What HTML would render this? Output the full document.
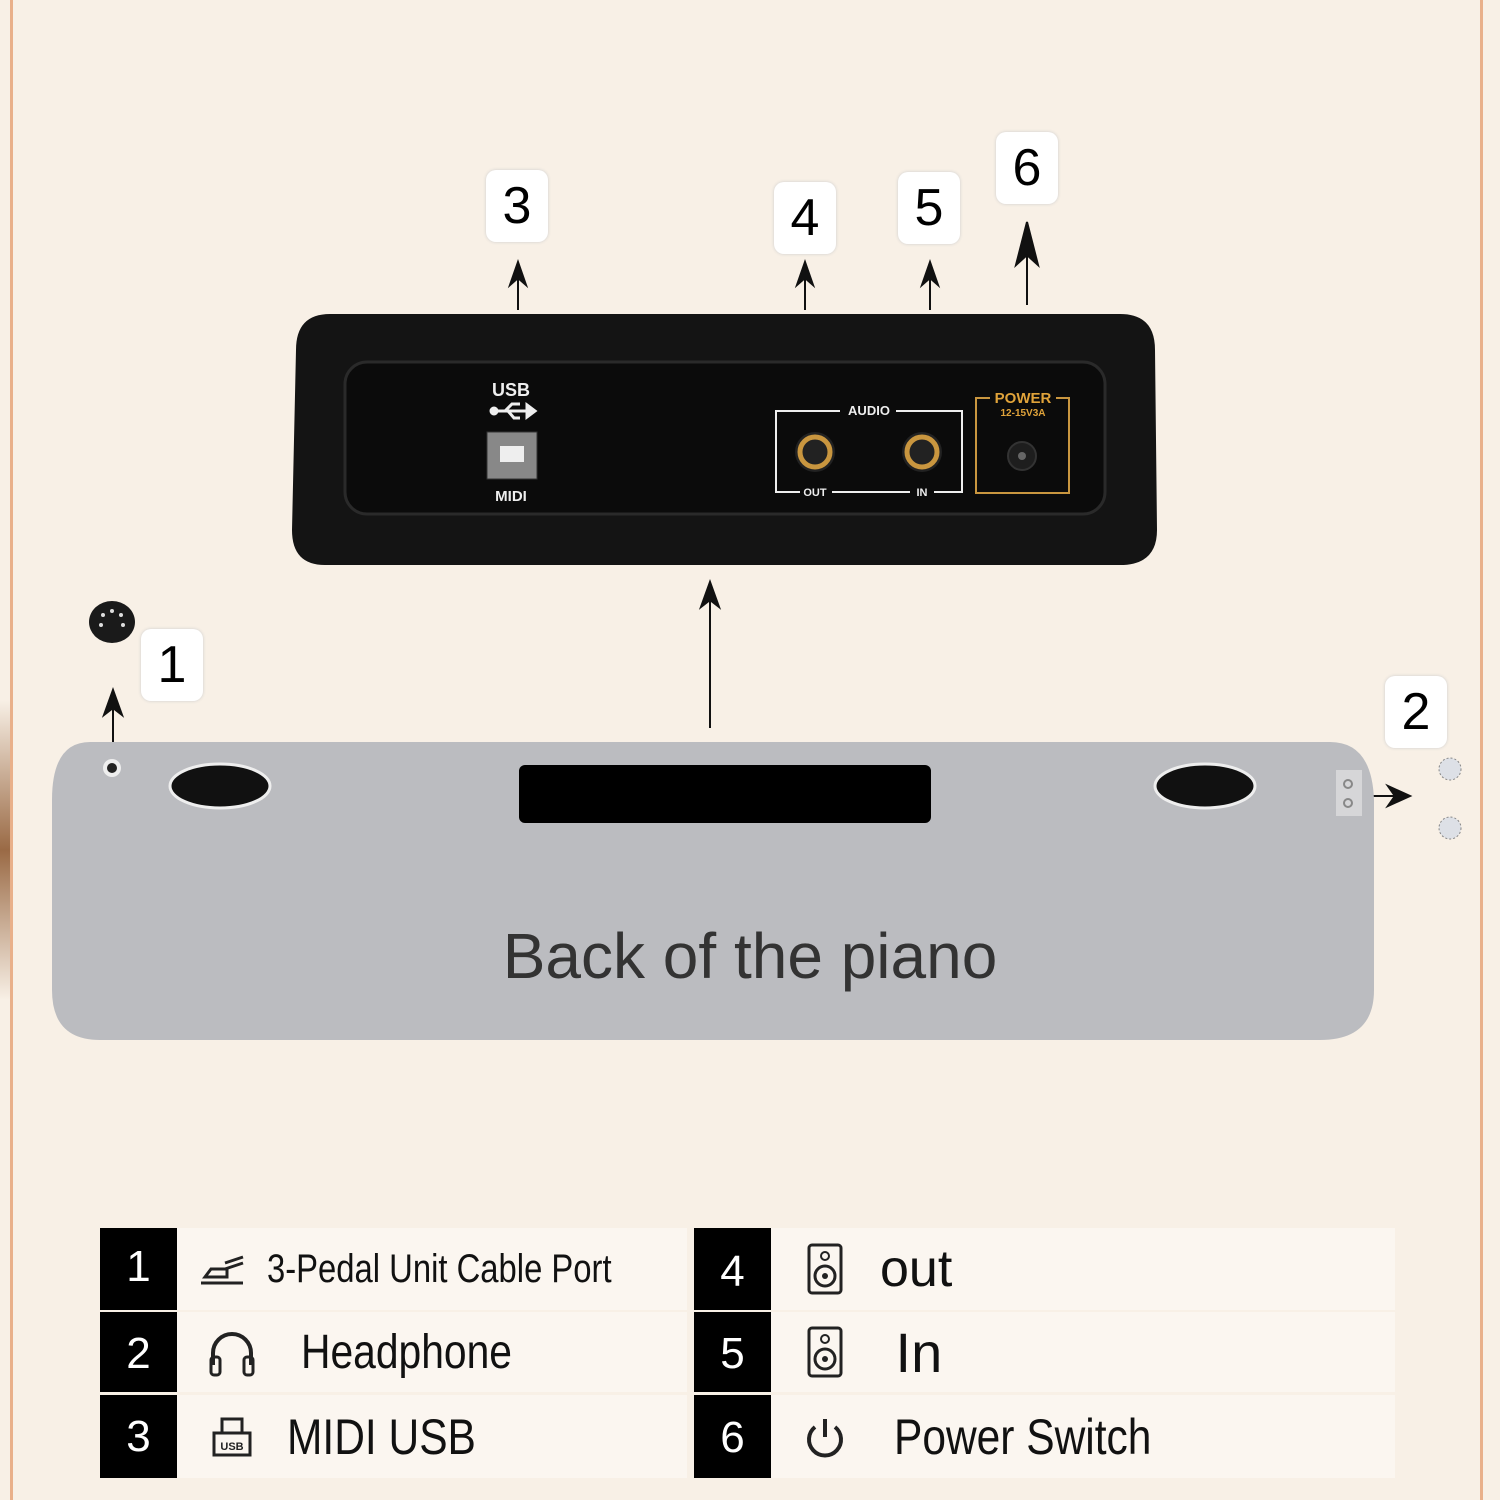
<!DOCTYPE html>
<html><head><style>
body{margin:0;width:1500px;height:1500px;background:#f8f0e6;position:relative;overflow:hidden;font-family:"Liberation Sans",sans-serif}
.a{position:absolute}
.num{position:absolute;width:62px;height:72px;background:#fff;border-radius:10px;box-shadow:0 0 3px #ccc;font-size:52px;text-align:center;line-height:72px;color:#000}
.blk{position:absolute;background:#000;color:#fff;font-size:44px;text-align:center;width:77px}
.row{position:absolute;background:#fbf6f0;font-size:42px;color:#111;display:flex;align-items:center;white-space:nowrap}
.ico{width:110px;display:flex;justify-content:center;align-items:center}
.t{display:inline-block;transform-origin:left center}
</style></head><body>
<div class="a" style="left:10px;top:0;width:3px;height:1500px;background:#e9b08a"></div>
<div class="a" style="left:1480px;top:0;width:3px;height:1500px;background:#e9b08a"></div>
<div class="a" style="left:0;top:700px;width:10px;height:300px;background:linear-gradient(#f8f0e6,#9a6a45,#f8f0e6)"></div>

<div class="num" style="left:486px;top:170px">3</div>
<div class="num" style="left:774px;top:182px">4</div>
<div class="num" style="left:898px;top:172px">5</div>
<div class="num" style="left:996px;top:132px">6</div>
<div class="num" style="left:141px;top:629px">1</div>
<div class="num" style="left:1385px;top:676px">2</div>

<svg class="a" style="left:0;top:0" width="1500" height="1500">
<g stroke="#111" stroke-width="2" fill="#111">
<line x1="518" y1="310" x2="518" y2="270"/><path d="M510 285 L518 262 L526 285 L518 278Z"/>
<line x1="805" y1="310" x2="805" y2="270"/><path d="M797 285 L805 262 L813 285 L805 278Z"/>
<line x1="930" y1="310" x2="930" y2="270"/><path d="M922 285 L930 262 L938 285 L930 278Z"/>
<line x1="1027" y1="305" x2="1027" y2="235"/><path d="M1016 265 L1027 222 L1038 265 L1027 255Z"/>
<line x1="710" y1="728" x2="710" y2="590"/><path d="M701 607 L710 582 L719 607 L710 600Z"/>
<line x1="113" y1="745" x2="113" y2="700"/><path d="M104 715 L113 690 L122 715 L113 708Z"/>
<line x1="1368" y1="796" x2="1400" y2="796"/><path d="M1388 786 L1410 796 L1388 806 L1395 796Z"/>
</g>
<ellipse cx="112" cy="622" rx="23" ry="21" fill="#1a1a1a"/>
<g fill="#ddd"><circle cx="103" cy="615" r="2"/><circle cx="112" cy="611" r="2"/><circle cx="121" cy="615" r="2"/><circle cx="101" cy="625" r="2"/><circle cx="123" cy="625" r="2"/></g>
<circle cx="1450" cy="769" r="11" fill="#dde0e6" stroke="#888" stroke-dasharray="2 2"/>
<circle cx="1450" cy="828" r="11" fill="#dde0e6" stroke="#888" stroke-dasharray="2 2"/>
<path d="M90 742 L1330 742 Q1372 742 1374 800 L1374 990 Q1374 1040 1320 1040 L100 1040 Q52 1040 52 990 L52 800 Q52 742 90 742Z" fill="#bbbcc0"/>
<circle cx="112" cy="768" r="9" fill="#eee"/><circle cx="112" cy="768" r="5" fill="#222"/>
<ellipse cx="220" cy="786" rx="50" ry="22" fill="#111" stroke="#eee" stroke-width="3"/>
<ellipse cx="1205" cy="786" rx="50" ry="22" fill="#111" stroke="#eee" stroke-width="3"/>
<rect x="519" y="765" width="412" height="58" rx="6" fill="#000"/>
<rect x="1336" y="770" width="26" height="46" fill="#d6d6d8"/>
<circle cx="1348" cy="784" r="4" fill="none" stroke="#888" stroke-width="2"/><circle cx="1348" cy="803" r="4" fill="none" stroke="#888" stroke-width="2"/>
<text x="750" y="978" font-size="64" text-anchor="middle" fill="#333" font-family="Liberation Sans">Back of the piano</text>

<path d="M330 314 L1120 314 Q1155 314 1155 350 L1157 530 Q1157 565 1120 565 L325 565 Q292 565 292 530 L296 350 Q296 314 330 314Z" fill="#141414"/>
<rect x="345" y="362" width="760" height="152" rx="22" fill="#0b0b0b" stroke="#2a2a2a" stroke-width="3"/>
<g font-family="Liberation Sans" font-weight="bold" fill="#eee" text-anchor="middle">
<text x="511" y="396" font-size="18">USB</text>
<text x="511" y="501" font-size="15">MIDI</text>
<text x="869" y="415" font-size="13">AUDIO</text>
<text x="815" y="496" font-size="11">OUT</text>
<text x="922" y="496" font-size="11">IN</text>
</g>
<g stroke="#eee" stroke-width="3" fill="#eee"><line x1="495" y1="411" x2="528" y2="411"/><circle cx="494" cy="411" r="3"/><path d="M527 405 L535 411 L527 417Z"/><path d="M505 411 L512 404 L520 404" fill="none"/><path d="M508 411 L514 418 L520 418" fill="none"/></g>
<rect x="487" y="432" width="50" height="47" fill="#888" stroke="#333"/>
<rect x="500" y="446" width="24" height="16" fill="#eee"/>
<path d="M840 411 L776 411 L776 492 L800 492 M832 492 L910 492 M934 492 L962 492 L962 411 L896 411" fill="none" stroke="#eee" stroke-width="2"/>
<circle cx="815" cy="452" r="20" fill="#222"/><circle cx="815" cy="452" r="15" fill="none" stroke="#c9963f" stroke-width="5"/>
<circle cx="922" cy="452" r="20" fill="#222"/><circle cx="922" cy="452" r="15" fill="none" stroke="#c9963f" stroke-width="5"/>
<path d="M990 398 L976 398 L976 493 L1069 493 L1069 398 L1056 398" fill="none" stroke="#c9963f" stroke-width="2"/>
<text x="1023" y="403" font-size="15" font-weight="bold" fill="#e0a33a" text-anchor="middle" font-family="Liberation Sans">POWER</text>
<text x="1023" y="416" font-size="10" font-weight="bold" fill="#e0a33a" text-anchor="middle" font-family="Liberation Sans">12-15V3A</text>
<circle cx="1022" cy="456" r="14" fill="#1e1e1e" stroke="#333" stroke-width="2"/><circle cx="1022" cy="456" r="4" fill="#666"/>
</svg>

<div class="row" style="left:177px;top:1228px;width:510px;height:82px"><span class="ico"><svg width="50" height="40"><path d="M4 34 L46 34 M8 28 L30 28 L30 20 L14 20Z M28 14 L46 8 M28 20 L46 14" stroke="#222" stroke-width="3" fill="none"/></svg></span><span class="t" style="font-size:40px;transform:scaleX(0.82)">3-Pedal Unit Cable Port</span></div>
<div class="row" style="left:177px;top:1312px;width:510px;height:80px"><span class="ico"><svg width="54" height="54"><path d="M8 40 L8 28 A19 19 0 0 1 46 28 L46 40" stroke="#222" stroke-width="4" fill="none"/><rect x="6" y="32" width="9" height="18" rx="3" fill="none" stroke="#222" stroke-width="3"/><rect x="39" y="32" width="9" height="18" rx="3" fill="none" stroke="#222" stroke-width="3"/></svg></span><span class="t" style="margin-left:14px;font-size:48px;transform:scaleX(0.85)">Headphone</span></div>
<div class="row" style="left:177px;top:1395px;width:510px;height:83px"><span class="ico"><svg width="44" height="44"><rect x="4" y="18" width="36" height="22" fill="none" stroke="#222" stroke-width="3"/><rect x="12" y="4" width="20" height="14" fill="none" stroke="#222" stroke-width="3"/><text x="22" y="35" font-size="11" text-anchor="middle" font-weight="bold" fill="#222">USB</text></svg></span><span class="t" style="font-size:50px;transform:scaleX(0.85)">MIDI USB</span></div>
<div class="row" style="left:770px;top:1228px;width:625px;height:82px;font-size:52px"><span class="ico"><svg width="40" height="54"><rect x="4" y="3" width="32" height="48" rx="3" fill="none" stroke="#222" stroke-width="3"/><circle cx="20" cy="14" r="4" fill="none" stroke="#222" stroke-width="2"/><circle cx="20" cy="34" r="10" fill="none" stroke="#222" stroke-width="3"/><circle cx="20" cy="34" r="3" fill="#222"/></svg></span>out</div>
<div class="row" style="left:770px;top:1312px;width:625px;height:80px;font-size:56px"><span class="ico"><svg width="40" height="54"><rect x="4" y="3" width="32" height="48" rx="3" fill="none" stroke="#222" stroke-width="3"/><circle cx="20" cy="14" r="4" fill="none" stroke="#222" stroke-width="2"/><circle cx="20" cy="34" r="10" fill="none" stroke="#222" stroke-width="3"/><circle cx="20" cy="34" r="3" fill="#222"/></svg></span>&nbsp;In</div>
<div class="row" style="left:770px;top:1395px;width:625px;height:83px"><span class="ico"><svg width="44" height="44"><path d="M12 12 A16 16 0 1 0 32 12" stroke="#222" stroke-width="4" fill="none"/><line x1="22" y1="4" x2="22" y2="22" stroke="#222" stroke-width="4"/></svg></span><span class="t" style="margin-left:14px;font-size:50px;transform:scaleX(0.85)">Power Switch</span></div>
<div class="blk" style="left:100px;top:1228px;height:82px;line-height:78px">1</div>
<div class="blk" style="left:100px;top:1312px;height:80px;line-height:84px">2</div>
<div class="blk" style="left:100px;top:1395px;height:83px;line-height:83px">3</div>
<div class="blk" style="left:694px;top:1228px;height:82px;line-height:88px">4</div>
<div class="blk" style="left:694px;top:1312px;height:80px;line-height:84px">5</div>
<div class="blk" style="left:694px;top:1395px;height:83px;line-height:86px">6</div>
</body></html>
